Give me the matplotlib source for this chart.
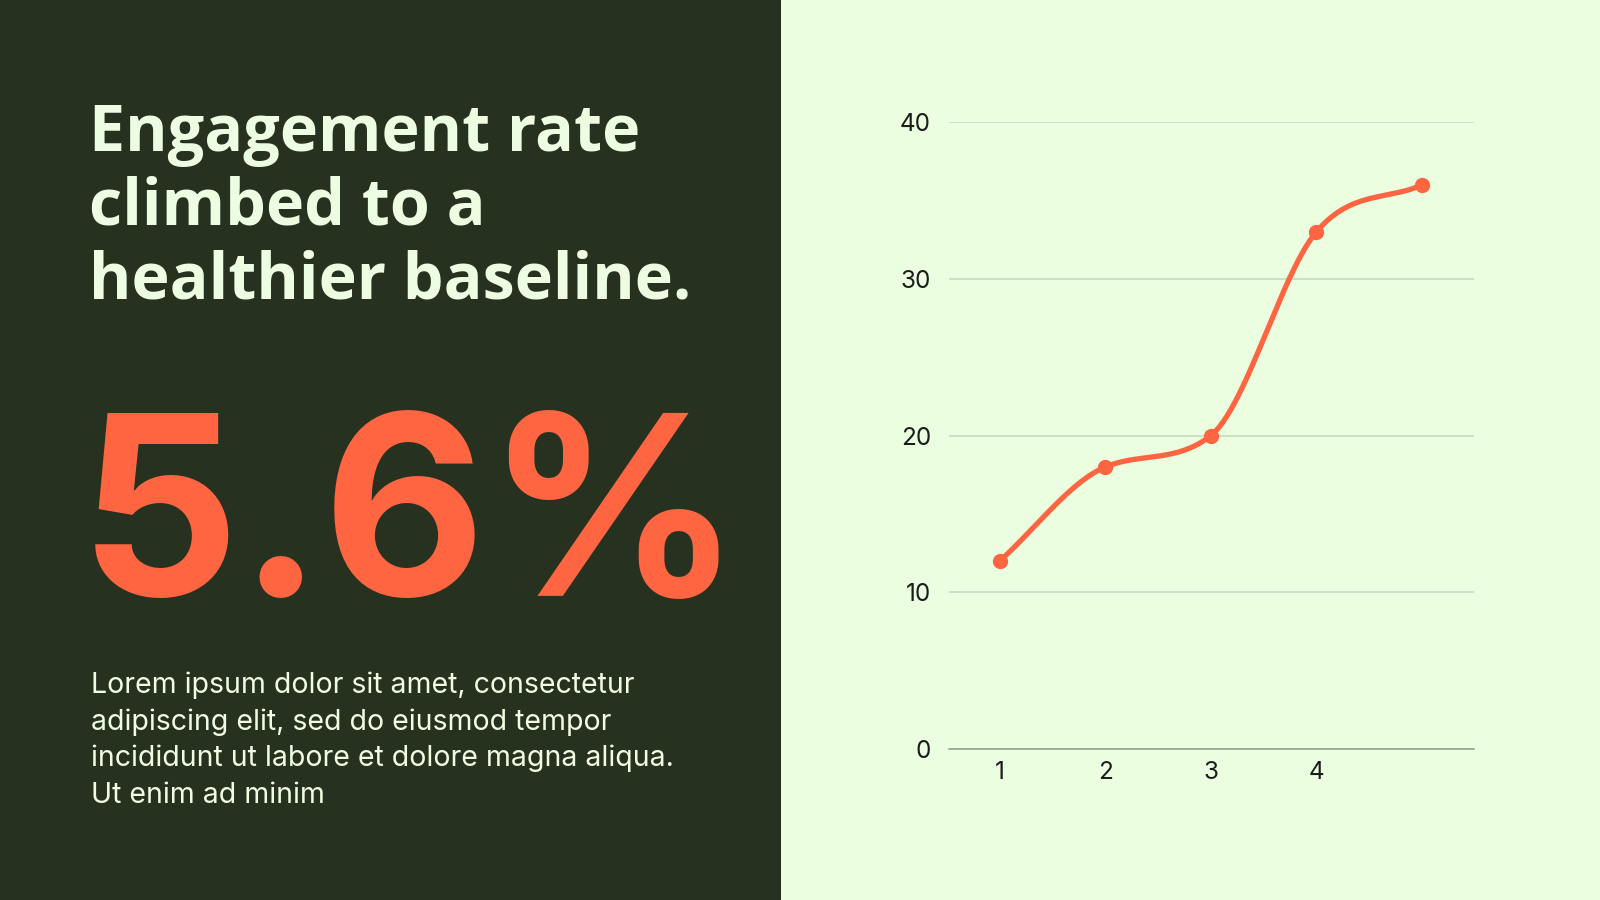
import numpy as np
import matplotlib
matplotlib.use("Agg")
import matplotlib.pyplot as plt

# ---- data ----
categories = ["1", "2", "3", "4", ""]
values = [12, 18, 20, 33, 36]
y_ticks = [0, 10, 20, 30, 40]
title_lines = ["Engagement rate", "climbed to a", "healthier baseline."]
big_number = "5.6%"
body_lines = ["Lorem ipsum dolor sit amet, consectetur",
              "adipiscing elit, sed do eiusmod tempor",
              "incididunt ut labore et dolore magna aliqua.",
              "Ut enim ad minim"]

DARK = "#263120"
LIGHT = "#ebfee0"
ORANGE = "#ff6541"
TEXT_LIGHT = "#ecfde1"

W, H = 1568.0, 882.0  # reference coordinate space

def fx(px):
    return px / W

def fy(py):
    return 1 - py / H

fig = plt.figure(figsize=(16, 9), dpi=100)
fig.patch.set_facecolor(LIGHT)

# dark left panel
fig.add_artist(plt.Rectangle((0, 0), fx(765), 1, transform=fig.transFigure,
                             facecolor=DARK, edgecolor="none", zorder=0))

# title
title_base = [148, 220, 293]
for line, b in zip(title_lines, title_base):
    fig.text(fx(87), fy(b), line, fontsize=46.5, fontweight="bold",
             family="Open Sans", color=TEXT_LIGHT, va="baseline", ha="left")

# big number
fig.text(fx(77), fy(584), big_number, fontsize=181, fontweight="bold",
         family="Inter", color=ORANGE, va="baseline", ha="left")

# body text
body_base = [679, 715, 751, 787]
for line, b in zip(body_lines, body_base):
    fig.text(fx(89), fy(b), line, fontsize=20.5, family="Inter",
             color=TEXT_LIGHT, va="baseline", ha="left")

# ---- chart ----
ax = fig.add_axes([fx(930), fy(734), fx(1445) - fx(930), (734 - 120) / H])
ax.set_facecolor("none")

x = np.arange(1, len(values) + 1, dtype=float)
y = np.array(values, dtype=float)

# monotone cubic interpolation (Fritsch-Carlson)
d = np.diff(y) / np.diff(x)
m = np.zeros_like(y)
m[0], m[-1] = d[0], d[-1]
for i in range(1, len(y) - 1):
    m[i] = 0 if d[i - 1] * d[i] <= 0 else (d[i - 1] + d[i]) / 2
for i in range(len(d)):
    if d[i] == 0:
        m[i] = m[i + 1] = 0
        continue
    a, b = m[i] / d[i], m[i + 1] / d[i]
    s = a * a + b * b
    if s > 9:
        t = 3 / np.sqrt(s)
        m[i] = t * a * d[i]
        m[i + 1] = t * b * d[i]
xs, ys = [], []
for i in range(len(d)):
    h = x[i + 1] - x[i]
    t = np.linspace(0, 1, 60)
    h00 = 2 * t**3 - 3 * t**2 + 1
    h10 = t**3 - 2 * t**2 + t
    h01 = -2 * t**3 + 3 * t**2
    h11 = t**3 - t**2
    xs.append(x[i] + t * h)
    ys.append(h00 * y[i] + h10 * h * m[i] + h01 * y[i + 1] + h11 * h * m[i + 1])
xs = np.concatenate(xs)
ys = np.concatenate(ys)

ax.plot(xs, ys, color=ORANGE, lw=3.8, solid_capstyle="round", zorder=3, clip_on=False)
ax.plot(x, y, "o", color=ORANGE, ms=10, zorder=4, clip_on=False)

ax.set_xlim(0.52, len(values) + 0.5)
ax.set_ylim(0, 40)
ax.set_xticks(x)
ax.set_xticklabels(categories)
ax.set_yticks(y_ticks)
ax.grid(axis="y", color="#c5d6bd", lw=1.1)
ax.set_axisbelow(True)
for sp in ["top", "right", "left"]:
    ax.spines[sp].set_visible(False)
ax.spines["bottom"].set_color("#8c9c86")
ax.spines["bottom"].set_linewidth(1.1)
ax.tick_params(axis="both", length=0, labelsize=17.5, labelcolor="#1c1c1c")
ax.tick_params(axis="y", pad=13)
ax.tick_params(axis="x", pad=9)
for lab in ax.get_xticklabels() + ax.get_yticklabels():
    lab.set_family("Inter")

fig.savefig("out.png", dpi=100, facecolor=fig.get_facecolor())
